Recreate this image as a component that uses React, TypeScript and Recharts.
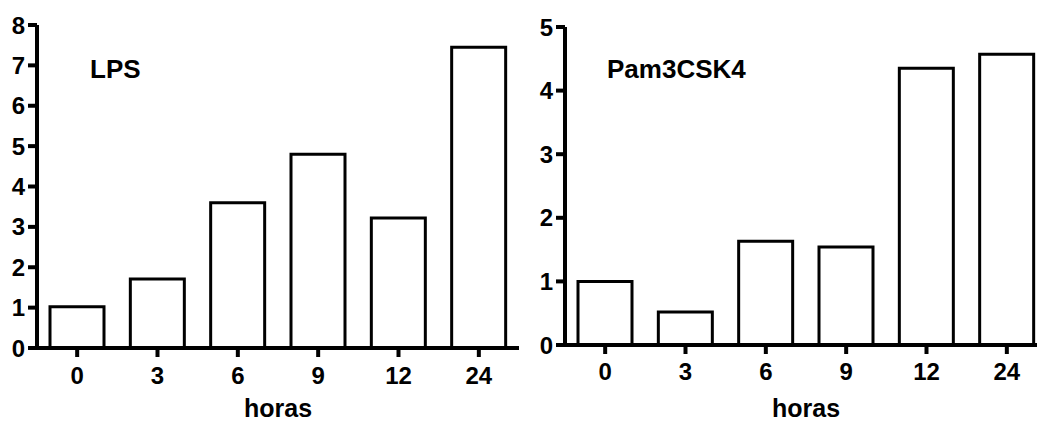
import { BarChart, Bar, XAxis, YAxis, Label } from "recharts";

const hours = ["0", "3", "6", "9", "12", "24"];
const lpsValues = [1.02, 1.71, 3.6, 4.8, 3.22, 7.45];
const pamValues = [1.0, 0.52, 1.63, 1.54, 4.35, 4.57];
const lpsTicks = [0, 1, 2, 3, 4, 5, 6, 7, 8];
const pamTicks = [0, 1, 2, 3, 4, 5];

const lpsData = hours.map((h, i) => ({ hora: h, value: lpsValues[i] }));
const pamData = hours.map((h, i) => ({ hora: h, value: pamValues[i] }));

const font = "'Liberation Sans', Arial, sans-serif";
const tickStyle = { fontFamily: font, fontSize: 24, fontWeight: 700, fill: "#000" };
const axisStroke = { stroke: "#000", strokeWidth: 4 };

const Panel = ({ data, ticks, max, yWidth, top, xTickMargin }: any) => (
  <BarChart
    width={yWidth + 485}
    height={424}
    data={data}
    margin={{ top, right: 3, left: 0, bottom: 0 }}
  >
    <XAxis
      dataKey="hora"
      interval={0}
      height={424 - top - (max === 8 ? 323 : 318)}
      tickSize={9}
      tickMargin={xTickMargin}
      tick={tickStyle}
      axisLine={axisStroke}
      tickLine={axisStroke}
    >
      <Label
        value="horas"
        position="insideBottom"
        offset={7}
        style={{ fontFamily: font, fontSize: 25, fontWeight: 700, fill: "#000" }}
      />
    </XAxis>
    <YAxis
      width={yWidth}
      domain={[0, max]}
      ticks={ticks}
      interval={0}
      tickSize={9}
      tickMargin={3}
      tick={tickStyle}
      axisLine={axisStroke}
      tickLine={axisStroke}
    />
    <Bar
      dataKey="value"
      fill="#fff"
      stroke="#000"
      strokeWidth={3}
      barSize={54}
      isAnimationActive={false}
    />
  </BarChart>
);

const titleStyle: any = {
  position: "absolute",
  fontFamily: font,
  fontSize: 26,
  fontWeight: 700,
  lineHeight: "26px",
  color: "#000",
  whiteSpace: "nowrap",
};

export default function App() {
  return (
    <div
      style={{
        position: "absolute",
        left: 0,
        top: 0,
        width: 1037,
        height: 424,
        overflow: "hidden",
        background: "#fff",
      }}
    >
      <div style={{ position: "absolute", left: 0, top: 0 }}>
        <Panel data={lpsData} ticks={lpsTicks} max={8} yWidth={37} top={25} xTickMargin={10} />
      </div>
      <div style={{ position: "absolute", left: 520, top: 0 }}>
        <Panel data={pamData} ticks={pamTicks} max={5} yWidth={45} top={27} xTickMargin={9} />
      </div>
      <div style={{ ...titleStyle, left: 90, top: 56 }}>LPS</div>
      <div style={{ ...titleStyle, left: 607, top: 56 }}>Pam3CSK4</div>
    </div>
  );
}
